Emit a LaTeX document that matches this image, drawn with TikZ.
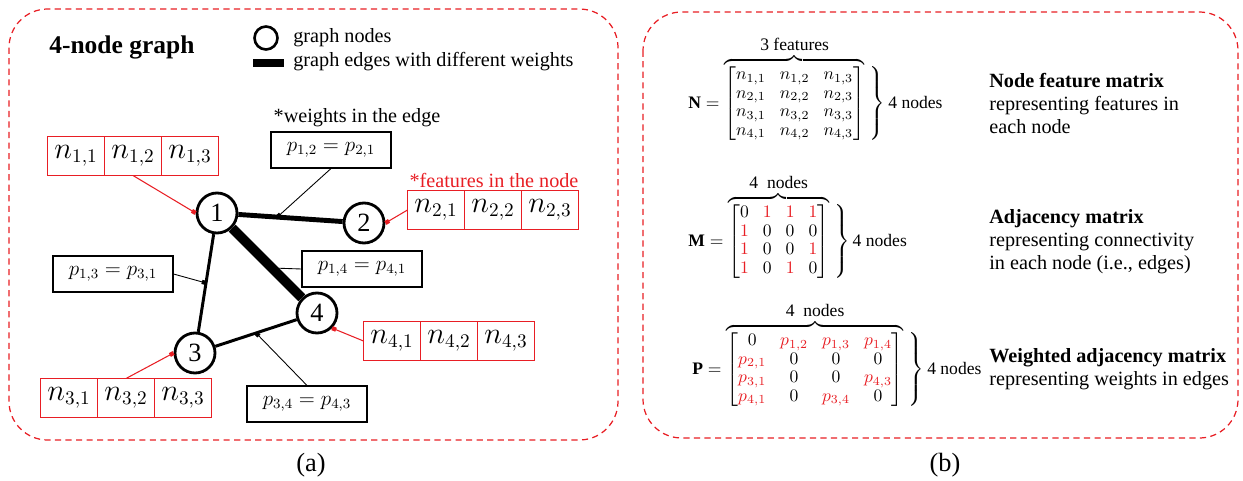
\documentclass[tikz,border=0pt]{standalone}
\usepackage{amsmath}
\usepackage{fontspec}
\setmainfont{Liberation Serif}
\usetikzlibrary{positioning, arrows.meta, calc}
\definecolor{figred}{RGB}{232,30,36}

% matrix bodies
\newcommand{\rd}[1]{{\color{figred}#1}}
\newcommand{\featmat}{\begin{bmatrix} n_{1,1} & n_{1,2} & n_{1,3}\\ n_{2,1} & n_{2,2} & n_{2,3}\\ n_{3,1} & n_{3,2} & n_{3,3}\\ n_{4,1} & n_{4,2} & n_{4,3} \end{bmatrix}}
\newcommand{\adjmat}{\begin{bmatrix} 0 & \rd{1} & \rd{1} & \rd{1}\\ \rd{1} & 0 & 0 & 0\\ \rd{1} & 0 & 0 & \rd{1}\\ \rd{1} & 0 & \rd{1} & 0 \end{bmatrix}}
\newcommand{\wadjmat}{\begin{bmatrix} 0 & \rd{p_{1,2}} & \rd{p_{1,3}} & \rd{p_{1,4}}\\ \rd{p_{2,1}} & 0 & 0 & 0\\ \rd{p_{3,1}} & 0 & 0 & \rd{p_{4,3}}\\ \rd{p_{4,1}} & 0 & \rd{p_{3,4}} & 0 \end{bmatrix}}
\newcommand{\bracedmat}[3]{\setlength{\arraycolsep}{4pt}\def\arraystretch{0.88}%
  #1 = \overbrace{#2}^{\mbox{#3}}\left.\vphantom{#2}\right\}\mbox{4 nodes}}

\begin{document}
\begin{tikzpicture}[
    x=0.02cm, y=-0.02cm,
    panel/.style={draw=figred, dash pattern=on 3.5pt off 2.5pt, line width=0.7pt, rounded corners=22pt},
    gnode/.style={circle, draw, line width=1.6pt, minimum size=0.8cm, inner sep=0pt, fill=white, font=\fontsize{15}{17}\selectfont},
    featcell/.style={rectangle, draw=figred, line width=1.1pt, outer sep=0pt, minimum width=1.14cm, minimum height=0.78cm, inner sep=0pt, font=\fontsize{16}{18}\selectfont},
    wbox/.style={rectangle, draw, line width=0.6pt, minimum width=2.4cm, minimum height=0.72cm, inner sep=0pt, font=\fontsize{12}{14}\selectfont},
    wlink/.style={-{Square[length=2.4pt, width=2.4pt]}, line width=0.5pt},
    flink/.style={wlink, figred, line width=0.6pt},
    txt/.style={inner sep=0pt, font=\fontsize{11.5}{13}\selectfont},
    desc/.style={txt, anchor=north west, align=left},
    matnode/.style={anchor=base west, inner sep=0pt, font=\fontsize{10}{12}\selectfont},
]
\useasboundingbox (0,0) rectangle (1243,480);

% Panels
\draw[panel] (9,9) rectangle (618,440);
\draw[panel] (643,12) rectangle (1238,438);
\node[font=\fontsize{15}{17}\selectfont] (capA) at (311,465) {(a)};
\node[font=\fontsize{15}{17}\selectfont] (capB) at (945,465) {(b)};

% Title and legend
\node[font=\fontsize{14.5}{17}\selectfont\bfseries, anchor=west, inner sep=0pt] (title) at (49,47) {4-node graph};
\node[circle, draw, line width=1.5pt, minimum size=0.46cm, inner sep=0pt] (legnode) at (266,38) {};
\node[txt, anchor=west] (legnodetxt) at (293,38) {graph nodes};
\node[txt, anchor=west] (legedgetxt) at (293,62) {graph edges with different weights};
\draw[line width=4pt] (253,63) -- (284,63);

% Graph nodes
\node[gnode] (v1) at (217,213) {1};
\node[gnode] (v2) at (364,223) {2};
\node[gnode] (v3) at (195,353) {3};
\node[gnode] (v4) at (317,313) {4};

% Weighted edges
\draw[line width=2.8pt] (v1) -- (v2);
\draw[line width=5.5pt] (v1) -- (v4);
\draw[line width=1.7pt] (v1) -- (v3);
\draw[line width=1.7pt] (v3) -- (v4);
\coordinate (w12) at ($(v1)!0.41!(v2)$);
\coordinate (w14) at ($(v1)!0.55!(v4)$);
\coordinate (w13) at ($(v1)!0.5!(v3)$);
\coordinate (w34) at ($(v3)!0.5!(v4)$);

% Edge weights
\node[txt] (wtitle) at (357,118) {*weights in the edge};
\node[wbox] (p12) at (331,150) {$p_{1,2} = p_{2,1}$};
\node[wbox] (p14) at (362,269) {$p_{1,4} = p_{4,1}$};
\node[wbox] (p13) at (113,274) {$p_{1,3} = p_{3,1}$};
\node[wbox] (p34) at (307,404) {$p_{3,4} = p_{4,3}$};
\draw[wlink] (p12.south) -- (w12);
\draw[wlink] (p14.west) -- (w14);
\draw[wlink] (p13.east) -- (w13);
\draw[wlink] (p34.north) -- (w34);

% Node features
\node[txt, text=figred] (ftitle) at (494,180) {*features in the node};
\foreach \i/\x/\y in {1/76/156, 2/436/210, 3/69/398, 4/392/341} {
  \node[featcell] (n\i1) at (\x,\y) {$n_{\i,1}$};
  \node[featcell, right=0pt of n\i1] (n\i2) {$n_{\i,2}$};
  \node[featcell, right=0pt of n\i2] (n\i3) {$n_{\i,3}$};
}
\draw[flink] (n12.south) -- (v1.west);
\draw[flink] (n21.west) -- (v2.east);
\draw[flink] (n32.north) -- (v3.west);
\draw[flink] (n41.west) -- (v4.-45);

% Matrices
\node[matnode] (matN) at (688,108) {$\bracedmat{\mathbf{N}}{\featmat}{3 features}$};
\node[matnode] (matM) at (688,246) {$\bracedmat{\mathbf{M}}{\adjmat}{4\enspace nodes}$};
\node[matnode] (matP) at (692,374) {$\bracedmat{\mathbf{P}}{\wadjmat}{4\enspace nodes}$};

% Descriptions
\node[desc] (descN) at (989,73) {\textbf{Node feature matrix}\\representing features in\\each node};
\node[desc] (descM) at (989,209) {\textbf{Adjacency matrix}\\representing connectivity\\in each node (i.e., edges)};
\node[desc] (descP) at (989,348) {\textbf{Weighted adjacency matrix}\\representing weights in edges};

\end{tikzpicture}
\end{document}
